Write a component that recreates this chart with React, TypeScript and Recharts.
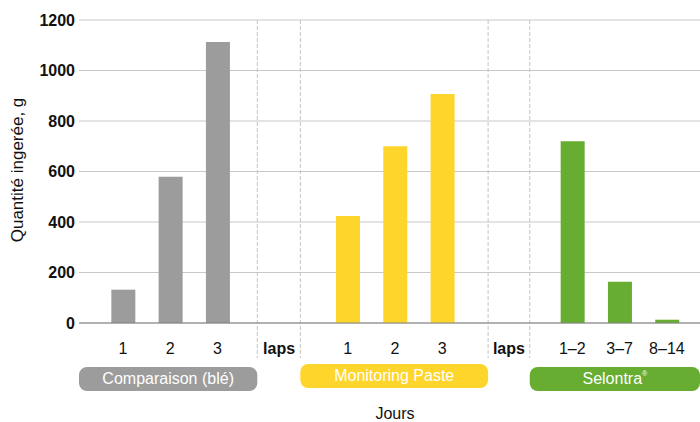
import React from 'react';
import {
  BarChart, Bar, Cell, XAxis, YAxis, CartesianGrid, ReferenceLine, ReferenceArea,
} from 'recharts';

const FONT = '"Liberation Sans", Arial, Helvetica, sans-serif';

// days shown under each bar, their slot on the x scale, and grams eaten
const dayLabels = ['1', '2', '3', '1', '2', '3', '1–2', '3–7', '8–14'];
const daySlots = [1, 2, 3, 5.75, 6.75, 7.75, 10.5, 11.5, 12.5];
const intake = [132, 579, 1113, 424, 700, 907, 720, 163, 13];
const dayGroup = [0, 0, 0, 1, 1, 1, 2, 2, 2];

const groupNames = ['Comparaison (blé)', 'Monitoring Paste', 'Selontra'];
const groupColors = ['#9d9c9c', '#fed52a', '#66ad31'];

const lapsSlots = [4.3, 9.16];
const dividerSlots = [3.84, 4.75, 8.72, 9.6];
const xDomain = [0.07, 13.2];
const yTicks = [0, 200, 400, 600, 800, 1000, 1200];

const data = daySlots.map((x, i) => ({ x, value: intake[i], group: dayGroup[i] }));
const xTicks = [...daySlots, ...lapsSlots].sort((a, b) => a - b);

// pill spans: plot edge / dividers
const groupSpans = [
  [xDomain[0], dividerSlots[0]],
  [dividerSlots[1], dividerSlots[2]],
  [dividerSlots[3], xDomain[1]],
];
const pillTop = [367, 364, 367];

/* eslint-disable @typescript-eslint/no-explicit-any */
function DayTick({ x, y, payload }: any) {
  const i = daySlots.indexOf(payload.value);
  const laps = i < 0;
  return (
    <text x={x} y={y} dy={29} textAnchor="middle" fontFamily={FONT} fontSize={16}
      fontWeight={laps ? 700 : 400} fill="#111">
      {laps ? 'laps' : dayLabels[i]}
    </text>
  );
}

function Divider(p: any) {
  const top = Math.min(p.y1, p.y2);
  const bottom = Math.max(p.y1, p.y2);
  return <line x1={p.x1} x2={p.x2} y1={top} y2={bottom + 35} stroke="#c4c4c4" strokeWidth={1} strokeDasharray="4 2" />;
}

function pill(g: number) {
  return (p: any) => {
    const top = pillTop[g];
    return (
      <g>
        <rect x={p.x} y={top} width={p.width} height={24} rx={8} ry={8} fill={groupColors[g]} />
        <text x={p.x + p.width / 2} y={top + 17} textAnchor="middle" fontFamily={FONT} fontSize={16} fill="#fff">
          {groupNames[g]}
          {g === 2 && <tspan fontSize={7} dy={-8}>®</tspan>}
        </text>
      </g>
    );
  };
}

export default function App() {
  return (
    <div style={{ position: 'absolute', left: 0, top: 0, width: 700, height: 422, background: '#fff' }}>
      <BarChart width={700} height={422} data={data} margin={{ top: 20, right: 0, left: 0, bottom: 69 }}>
        <CartesianGrid vertical={false} stroke="#c8c8c8" />
        <XAxis
          type="number"
          dataKey="x"
          domain={xDomain}
          allowDataOverflow
          ticks={xTicks}
          interval={0}
          tick={<DayTick />}
          tickLine={false}
          tickSize={0}
          height={30}
          axisLine={{ stroke: '#808080' }}
          label={{
            content: () => (
              <text x={395} y={419} textAnchor="middle" fontFamily={FONT} fontSize={16} fill="#111">Jours</text>
            ),
          }}
        />
        <YAxis
          domain={[0, 1200]}
          ticks={yTicks}
          width={79}
          tickLine={false}
          axisLine={false}
          tickSize={4}
          tickMargin={0}
          tick={{ fontSize: 16, fontWeight: 700, fill: '#111', fontFamily: FONT }}
          label={{
            content: () => (
              <text transform="translate(23,170) rotate(-90)" textAnchor="middle" fontFamily={FONT} fontSize={17} fill="#111">
                Quantité ingerée, g
              </text>
            ),
          }}
        />
        {dividerSlots.map((d) => (
          <ReferenceLine key={d} x={d} shape={Divider} />
        ))}
        {groupSpans.map((s, g) => (
          <ReferenceArea key={g} x1={s[0]} x2={s[1]} shape={pill(g)} />
        ))}
        <Bar dataKey="value" barSize={24} isAnimationActive={false}>
          {data.map((d, i) => <Cell key={i} fill={groupColors[d.group]} />)}
        </Bar>
      </BarChart>
    </div>
  );
}
